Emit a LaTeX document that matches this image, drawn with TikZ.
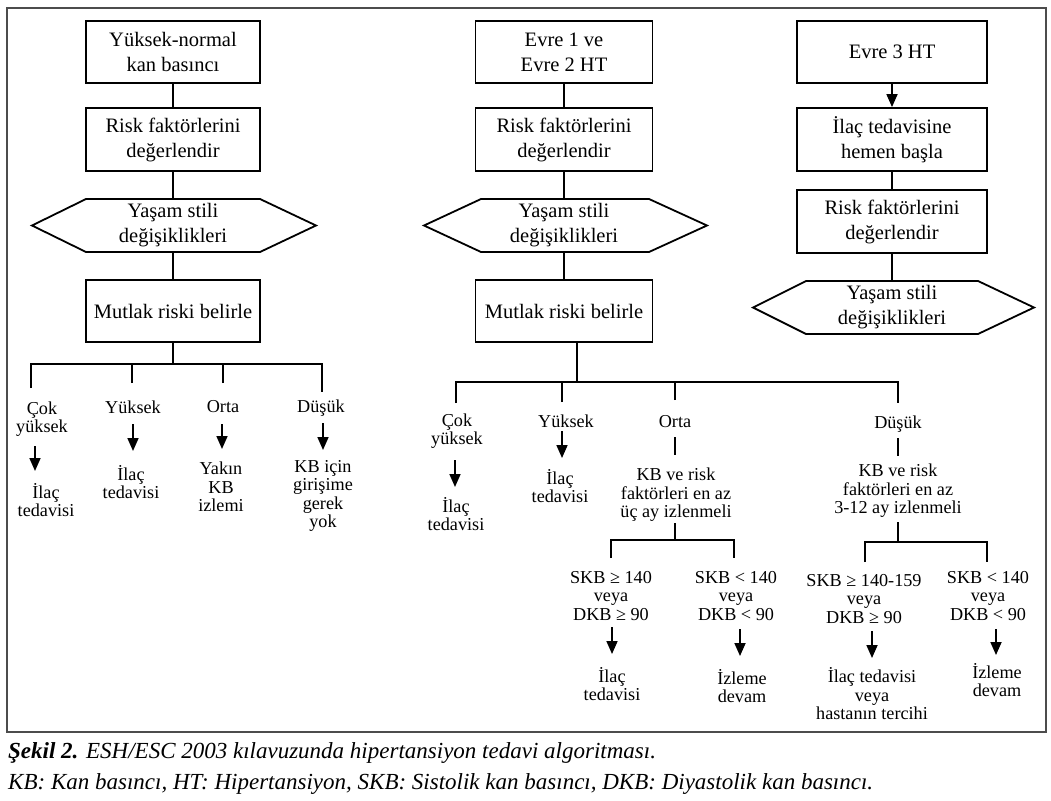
\documentclass[tikz,border=0pt]{standalone}
\usepackage{fontspec}
\setmainfont{Liberation Serif}
\usetikzlibrary{arrows.meta}
\newcommand\bxf{\fontsize{20.5}{25}\selectfont}
\newcommand\brf{\fontsize{18.2}{18.5}\selectfont}
\newcommand\cpf{\fontsize{23}{28}\selectfont}
\begin{document}
\begin{tikzpicture}[x=1pt,y=-1pt,line join=miter,
  box/.style={draw=black,line width=1.8pt,minimum height=62pt,inner sep=0pt,align=center,font=\bxf},
  hexn/.style={inner sep=0pt,align=center,font=\bxf,minimum height=53pt},
  lbl/.style={inner sep=0pt,align=center,font=\brf},
  ln/.style={line width=1.8pt,black},
  arr/.style={line width=1.7pt,black,-{Triangle[length=13pt,width=11pt]}},
  frame/.style={draw=black!70,line width=1.8pt}]
\useasboundingbox (0,0) rectangle (1051,800);
\draw[frame] (7,8) rectangle (1046,732);

% ---------------- Column 1
\node[box,minimum width=174pt] (b11) at (173,52) {Yüksek-normal\\kan basıncı};
\node[box,minimum width=174pt,minimum height=63pt] (b12) at (173,139.5) {Risk faktörlerini\\değerlendir};
\node[hexn,minimum width=174pt] (h13) at (173,225.5) {Yaşam stili\\değişiklikleri};
\draw[ln,shift={(h13.center)}] (-87,-26.5) -- (87,-26.5) -- (143,0) -- (87,26.5) -- (-87,26.5) -- (-141,0) -- cycle;
\node[box,minimum width=174pt] (b14) at (173,311) {Mutlak riski belirle};
\draw[ln] (b11) -- (b12);
\draw[ln] (b12) -- (h13);
\draw[ln] (h13) -- (b14);

\coordinate (j1) at (173,364);
\coordinate (j1L) at (31,364);
\coordinate (j1R) at (322,364);
\coordinate (t1a) at (31,388);
\coordinate (t1b) at (132,383);
\coordinate (t1c) at (223,383);
\coordinate (t1d) at (322,392);
\draw[ln] (b14) -- (j1);
\draw[ln] (t1a) -- (j1L) -- (j1R) -- (t1d);
\draw[ln] (t1b) -- (t1b |- j1);
\draw[ln] (t1c) -- (t1c |- j1);

\node[lbl] (l1a) at (42,419) {Çok\\yüksek};
\coordinate (p1a) at (35,446); \coordinate (q1a) at (35,471);
\draw[arr] (p1a) -- (q1a);
\node[lbl] (r1a) at (46,500) {İlaç\\tedavisi};

\node[lbl] (l1b) at (133,407) {Yüksek};
\coordinate (p1b) at (133,424); \coordinate (q1b) at (133,451);
\draw[arr] (p1b) -- (q1b);
\node[lbl] (r1b) at (131,482) {İlaç\\tedavisi};

\node[lbl] (l1c) at (223,407) {Orta};
\coordinate (p1c) at (222,424); \coordinate (q1c) at (222,449);
\draw[arr] (p1c) -- (q1c);
\node[lbl] (r1c) at (221,487) {Yakın\\KB\\izlemi};

\node[lbl] (l1d) at (321,408) {Düşük};
\coordinate (p1d) at (323,423); \coordinate (q1d) at (323,450);
\draw[arr] (p1d) -- (q1d);
\node[lbl] (r1d) at (323,496) {KB için\\girişime\\gerek\\yok};

% ---------------- Column 2
\node[box,minimum width=177pt] (b21) at (564,52) {Evre 1 ve\\Evre 2 HT};
\node[box,minimum width=177pt,minimum height=63pt] (b22) at (564,139.5) {Risk faktörlerini\\değerlendir};
\node[hexn,minimum width=170pt] (h23) at (564,225.5) {Yaşam stili\\değişiklikleri};
\draw[ln,shift={(h23.center)}] (-83,-26.5) -- (85,-26.5) -- (143,0) -- (85,26.5) -- (-83,26.5) -- (-140,0) -- cycle;
\node[box,minimum width=177pt] (b24) at (564,311) {Mutlak riski belirle};
\draw[ln] (b21) -- (b22);
\draw[ln] (b22) -- (h23);
\draw[ln] (h23) -- (b24);

\coordinate (j2) at (577,382);
\coordinate (j2L) at (456,382);
\coordinate (j2R) at (898,382);
\coordinate (t2a) at (456,403);
\coordinate (t2b) at (562,402);
\coordinate (t2c) at (675,400);
\coordinate (t2d) at (898,403);
\draw[ln] (b24.south -| j2) -- (j2);
\draw[ln] (t2a) -- (j2L) -- (j2R) -- (t2d);
\draw[ln] (t2b) -- (t2b |- j2);
\draw[ln] (t2c) -- (t2c |- j2);

\node[lbl] (l2a) at (457,431) {Çok\\yüksek};
\coordinate (p2a) at (455,460); \coordinate (q2a) at (455,487);
\draw[arr] (p2a) -- (q2a);
\node[lbl] (r2a) at (456,514) {İlaç\\tedavisi};

\node[lbl] (l2b) at (566,421) {Yüksek};
\coordinate (p2b) at (562,431); \coordinate (q2b) at (562,458);
\draw[arr] (p2b) -- (q2b);
\node[lbl] (r2b) at (560,486) {İlaç\\tedavisi};

\node[lbl] (l2c) at (675,422) {Orta};
\coordinate (p2c) at (675,437); \coordinate (q2c) at (675,455);
\draw[ln] (p2c) -- (q2c);
\node[lbl] (r2c) at (676,495) {KB ve risk\\faktörleri en az\\üç ay izlenmeli};

\coordinate (u2c) at (675,523);
\coordinate (k2c) at (675,540);
\coordinate (k2cL) at (611,540);
\coordinate (k2cR) at (734,540);
\coordinate (v2c1) at (611,558);
\coordinate (v2c2) at (734,558);
\draw[ln] (u2c) -- (k2c);
\draw[ln] (v2c1) -- (k2cL) -- (k2cR) -- (v2c2);

\node[lbl] (s2c1) at (611,596) {SKB ≥ 140\\veya\\DKB ≥ 90};
\coordinate (p2c1) at (612,627); \coordinate (q2c1) at (612,654);
\draw[arr] (p2c1) -- (q2c1);
\node[lbl] (r2c1) at (612,684) {İlaç\\tedavisi};

\node[lbl] (s2c2) at (736,596) {SKB < 140\\veya\\DKB < 90};
\coordinate (p2c2) at (740,629); \coordinate (q2c2) at (740,656);
\draw[arr] (p2c2) -- (q2c2);
\node[lbl] (r2c2) at (742,686) {İzleme\\devam};

\node[lbl] (l2d) at (898,424) {Düşük};
\coordinate (p2d) at (898,438); \coordinate (q2d) at (898,456);
\draw[ln] (p2d) -- (q2d);
\node[lbl] (r2d) at (898,491) {KB ve risk\\faktörleri en az\\3-12 ay izlenmeli};

\coordinate (u2d) at (898,522);
\coordinate (k2d) at (898,542);
\coordinate (k2dL) at (865,542);
\coordinate (k2dR) at (987,542);
\coordinate (v2d1) at (865,562);
\coordinate (v2d2) at (987,562);
\draw[ln] (u2d) -- (k2d);
\draw[ln] (v2d1) -- (k2dL) -- (k2dR) -- (v2d2);

\node[lbl] (s2d1) at (864,599) {SKB ≥ 140-159\\veya\\DKB ≥ 90};
\coordinate (p2d1) at (872,631); \coordinate (q2d1) at (872,658);
\draw[arr] (p2d1) -- (q2d1);
\node[lbl] (r2d1) at (872,694) {İlaç tedavisi\\veya\\hastanın tercihi};

\node[lbl] (s2d2) at (988,596) {SKB < 140\\veya\\DKB < 90};
\coordinate (p2d2) at (996,629); \coordinate (q2d2) at (996,655);
\draw[arr] (p2d2) -- (q2d2);
\node[lbl] (r2d2) at (997,680) {İzleme\\devam};

% ---------------- Column 3
\node[box,minimum width=190pt] (b31) at (892,52) {Evre 3 HT};
\node[box,minimum width=190pt,minimum height=63pt] (b32) at (892,139.5) {İlaç tedavisine\\hemen başla};
\node[box,minimum width=190pt,minimum height=63pt] (b33) at (892,221.5) {Risk faktörlerini\\değerlendir};
\node[hexn,minimum width=172pt] (h34) at (892,307.5) {Yaşam stili\\değişiklikleri};
\draw[ln,shift={(h34.center)}] (-86,-26.5) -- (86,-26.5) -- (142,0) -- (86,26.5) -- (-86,26.5) -- (-139,0) -- cycle;
\draw[arr] (b31) -- (b32);
\draw[ln] (b32) -- (b33);
\draw[ln] (b33) -- (h34);

% ---------------- Caption
\node[anchor=base west,inner sep=0pt,font=\cpf] (cap1) at (8,758)
  {\textbf{\textit{Şekil 2.}} \textit{ESH/ESC 2003 kılavuzunda hipertansiyon tedavi algoritması.}};
\node[anchor=base west,inner sep=0pt,font=\cpf] (cap2) at (8,789)
  {\textit{KB: Kan basıncı, HT: Hipertansiyon, SKB: Sistolik kan basıncı, DKB: Diyastolik kan basıncı.}};
\end{tikzpicture}
\end{document}
